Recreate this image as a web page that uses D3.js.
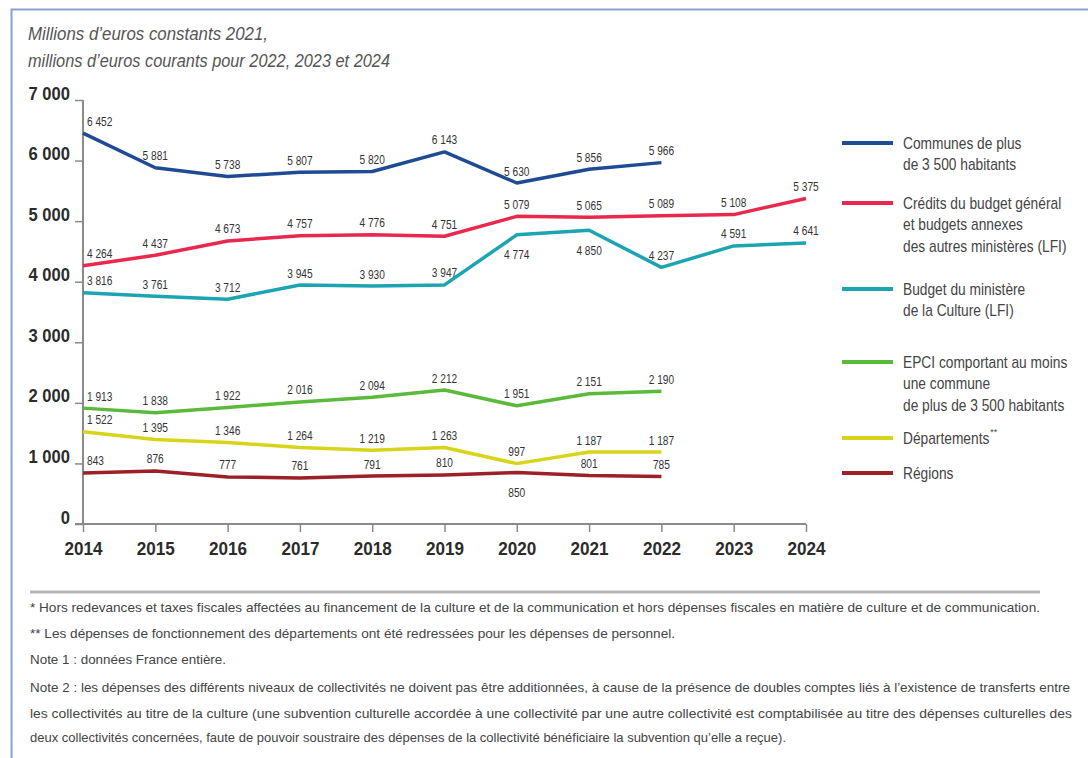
<!DOCTYPE html>
<html>
<head>
<meta charset="utf-8">
<script src="https://cdn.jsdelivr.net/npm/d3@7"></script>
<style>
  html, body { margin: 0; padding: 0; background: #fff; }
  svg { display: block; }
  text { font-family: "Liberation Sans", Arial, sans-serif; }
</style>
</head>
<body>
<div id="chart"></div>
<script>
// years on the x axis
const years = [2014, 2015, 2016, 2017, 2018, 2019, 2020, 2021, 2022, 2023, 2024];

// series values (missing years simply not listed)
const communes = [6452, 5881, 5738, 5807, 5820, 6143, 5630, 5856, 5966];
const credits = [4264, 4437, 4673, 4757, 4776, 4751, 5079, 5065, 5089, 5108, 5375];
const budgetCulture = [3816, 3761, 3712, 3945, 3930, 3947, 4774, 4850, 4237, 4591, 4641];
const epci = [1913, 1838, 1922, 2016, 2094, 2212, 1951, 2151, 2190];
const departements = [1522, 1395, 1346, 1264, 1219, 1263, 997, 1187, 1187];
const regions = [843, 876, 777, 761, 791, 810, 850, 801, 785];

const yTicks = [0, 1000, 2000, 3000, 4000, 5000, 6000, 7000];

const legendLabels = [
  ["Communes de plus", "de 3 500 habitants"],
  ["Crédits du budget général", "et budgets annexes", "des autres ministères (LFI)"],
  ["Budget du ministère", "de la Culture (LFI)"],
  ["EPCI comportant au moins", "une commune", "de plus de 3 500 habitants"],
  ["Départements"],
  ["Régions"]
];

// years whose value label sits under the line
const labelsBelow = [[], [], [2020, 2021], [], [], [2020]];

const titleLines = ["Millions d’euros constants 2021,", "millions d’euros courants pour 2022, 2023 et 2024"];

const notes = [
  "* Hors redevances et taxes fiscales affectées au financement de la culture et de la communication et hors dépenses fiscales en matière de culture et de communication.",
  "** Les dépenses de fonctionnement des départements ont été redressées pour les dépenses de personnel.",
  "Note 1 : données France entière.",
  "Note 2 : les dépenses des différents niveaux de collectivités ne doivent pas être additionnées, à cause de la présence de doubles comptes liés à l’existence de transferts entre",
  "les collectivités au titre de la culture (une subvention culturelle accordée à une collectivité par une autre collectivité est comptabilisée au titre des dépenses culturelles des",
  "deux collectivités concernées, faute de pouvoir soustraire des dépenses de la collectivité bénéficiaire la subvention qu’elle a reçue)."
];
const noteWidths = [1010, 645, 196, 1040, 1042, 756];

const seriesValues = [communes, credits, budgetCulture, epci, departements, regions];
const colors = ["#1f4a94", "#e9284e", "#1ba5b3", "#5bba3c", "#d8d41a", "#9c2126"];

const width = 1088, height = 758;

// squeeze text horizontally, the original uses a condensed face
function condense(sel, k) {
  sel.each(function () {
    const w = this.getComputedTextLength();
    d3.select(this).attr("textLength", w * k).attr("lengthAdjust", "spacingAndGlyphs");
  });
}

const svg = d3.select("#chart").append("svg")
  .attr("width", width)
  .attr("height", height);

// frame on the left and top
svg.append("path")
  .attr("d", `M11.5,${height} V9.5 H${width}`)
  .attr("fill", "none")
  .attr("stroke", "#8b9fd2")
  .attr("stroke-width", 2);

// title
svg.append("g").selectAll("text")
  .data(titleLines)
  .enter().append("text")
  .attr("x", 28)
  .attr("y", (d, i) => 40 + i * 27)
  .attr("font-size", 18)
  .attr("font-style", "italic")
  .attr("fill", "#555")
  .attr("textLength", (d, i) => [240, 362][i])
  .attr("lengthAdjust", "spacingAndGlyphs")
  .text(d => d);

const x = d3.scalePoint().domain(years).range([83, 806]);
const y = d3.scaleLinear().domain([0, 7000]).range([524, 100]);

// y axis
const yAxis = svg.append("g")
  .attr("transform", "translate(83,0)")
  .call(d3.axisLeft(y).tickValues(yTicks).tickSize(8).tickPadding(5)
    .tickFormat(d => d3.format(",")(d).replace(/,/g, " ")));
yAxis.select(".domain").attr("stroke", "#8a8a8a").attr("stroke-width", 2)
  .attr("d", `M0,${y(7000)}V${y(0)}`);
yAxis.selectAll(".tick line").attr("stroke", "#8a8a8a").attr("stroke-width", 1.5);
yAxis.selectAll(".tick text")
  .attr("font-size", 18)
  .attr("font-weight", "bold")
  .attr("fill", "#2b2b2b")
  .attr("dy", "-0.05em");
condense(yAxis.selectAll(".tick text"), 0.92);

// x axis
const xAxis = svg.append("g")
  .attr("transform", `translate(0,${y(0)})`)
  .call(d3.axisBottom(x).tickSize(8).tickPadding(10).tickFormat(d => d));
xAxis.select(".domain").attr("stroke", "#8a8a8a").attr("stroke-width", 2)
  .attr("d", `M75,0H806`);
xAxis.selectAll(".tick line").attr("stroke", "#8a8a8a").attr("stroke-width", 1.5);
xAxis.selectAll(".tick text")
  .attr("font-size", 18)
  .attr("font-weight", "bold")
  .attr("fill", "#2b2b2b");
condense(xAxis.selectAll(".tick text"), 0.95);

const line = d3.line()
  .x((d, i) => x(years[i]))
  .y(d => y(d));

const fmt = v => d3.format(",")(v).replace(/,/g, " ");

seriesValues.forEach((vals, s) => {
  svg.append("path")
    .datum(vals)
    .attr("fill", "none")
    .attr("stroke", colors[s])
    .attr("stroke-width", 3.5)
    .attr("stroke-linejoin", "round")
    .attr("d", line);

  const labels = svg.append("g").selectAll("text")
    .data(vals)
    .enter().append("text")
    .attr("x", (d, i) => i === 0 ? x(years[i]) + 4 : x(years[i]))
    .attr("y", (d, i) => labelsBelow[s].includes(years[i]) ? y(d) + 20 : y(d) - 12)
    .attr("dy", "0.35em")
    .attr("text-anchor", (d, i) => i === 0 ? "start" : "middle")
    .attr("font-size", 13)
    .attr("fill", "#333")
    .text(d => fmt(d));
  condense(labels, 0.78);
});

// legend
const legendTop = [143, 203, 289, 362, 438, 473];
const legendSqueeze = 0.86;
const legend = svg.append("g").selectAll("g")
  .data(legendLabels)
  .enter().append("g")
  .attr("transform", (d, i) => `translate(842,${legendTop[i]})`);

legend.append("line")
  .attr("x1", 0).attr("x2", 51)
  .attr("stroke", (d, i) => colors[i])
  .attr("stroke-width", 4);

legend.each(function (lines) {
  const g = d3.select(this);
  lines.forEach((l, j) => {
    g.append("text")
      .attr("transform", `translate(61,${j * 21.5}) scale(${legendSqueeze},1)`)
      .attr("dy", "0.35em")
      .attr("font-size", 16)
      .attr("fill", "#444")
      .text(l);
  });
});

// asterisks on Départements
legend.filter((d, i) => i === 4).each(function () {
  const g = d3.select(this);
  const w = g.select("text").node().getComputedTextLength() * legendSqueeze;
  g.append("text")
    .attr("x", 61 + w + 1)
    .attr("y", -3)
    .attr("font-size", 9)
    .attr("fill", "#444")
    .text("**");
});

// separator
svg.append("line")
  .attr("x1", 30).attr("x2", 1040)
  .attr("y1", 592).attr("y2", 592)
  .attr("stroke", "#b5b5b5")
  .attr("stroke-width", 3);

// footnotes
const noteY = [607, 633, 659, 687, 713, 737];
svg.append("g").selectAll("text")
  .data(notes)
  .enter().append("text")
  .attr("x", 30)
  .attr("y", (d, i) => noteY[i])
  .attr("dy", "0.35em")
  .attr("font-size", 13)
  .attr("fill", "#444")
  .attr("textLength", (d, i) => noteWidths[i])
  .attr("lengthAdjust", "spacingAndGlyphs")
  .text(d => d);
</script>
</body>
</html>
